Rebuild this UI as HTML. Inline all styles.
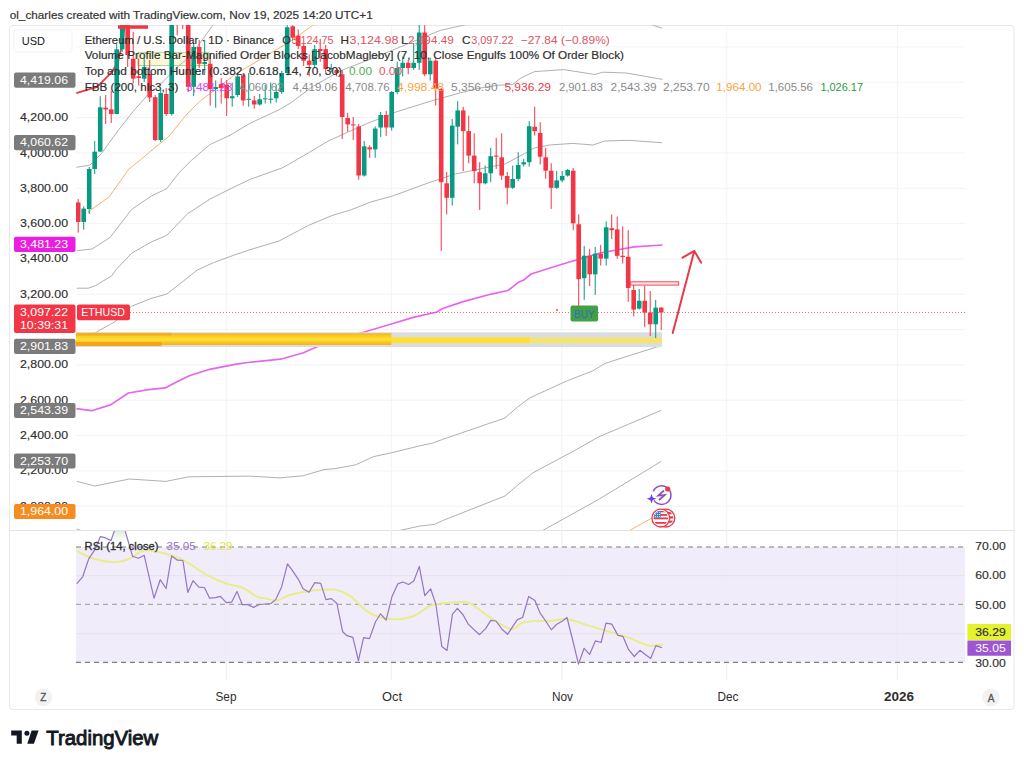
<!DOCTYPE html><html><head><meta charset="utf-8"><style>html,body{margin:0;padding:0;background:#fff;}body{width:1024px;height:766px;overflow:hidden;position:relative;}svg{position:absolute;left:0;top:0;}</style></head><body>
<svg width="1024" height="766" viewBox="0 0 1024 766" font-family='"Liberation Sans", sans-serif'>
<defs><clipPath id="mp"><rect x="76" y="25" width="889" height="505"/></clipPath><clipPath id="rp"><rect x="76" y="531" width="889" height="149"/></clipPath></defs>
<text x="9.7" y="18.6" font-size="11.4" fill="#333" stroke="#333" stroke-width="0.2" textLength="363" lengthAdjust="spacingAndGlyphs">ol_charles created with TradingView.com, Nov 19, 2025 14:20 UTC+1</text>
<rect x="9.5" y="25.5" width="1004.5" height="684" rx="3" fill="none" stroke="#e6e8ee" stroke-width="1"/>
<line x1="10" y1="530.5" x2="1014" y2="530.5" stroke="#e0e3eb"/>
<line x1="76" y1="506.2" x2="965" y2="506.2" stroke="#f2f3f6"/>
<line x1="76" y1="470.9" x2="965" y2="470.9" stroke="#f2f3f6"/>
<line x1="76" y1="435.6" x2="965" y2="435.6" stroke="#f2f3f6"/>
<line x1="76" y1="400.2" x2="965" y2="400.2" stroke="#f2f3f6"/>
<line x1="76" y1="364.9" x2="965" y2="364.9" stroke="#f2f3f6"/>
<line x1="76" y1="329.6" x2="965" y2="329.6" stroke="#f2f3f6"/>
<line x1="76" y1="294.2" x2="965" y2="294.2" stroke="#f2f3f6"/>
<line x1="76" y1="258.9" x2="965" y2="258.9" stroke="#f2f3f6"/>
<line x1="76" y1="223.6" x2="965" y2="223.6" stroke="#f2f3f6"/>
<line x1="76" y1="188.3" x2="965" y2="188.3" stroke="#f2f3f6"/>
<line x1="76" y1="152.9" x2="965" y2="152.9" stroke="#f2f3f6"/>
<line x1="76" y1="117.6" x2="965" y2="117.6" stroke="#f2f3f6"/>
<line x1="76" y1="82.3" x2="965" y2="82.3" stroke="#f2f3f6"/>
<line x1="76" y1="46.9" x2="965" y2="46.9" stroke="#f2f3f6"/>
<line x1="226.3" y1="26" x2="226.3" y2="680" stroke="#f2f3f6"/>
<line x1="391.3" y1="26" x2="391.3" y2="680" stroke="#f2f3f6"/>
<line x1="561.8" y1="26" x2="561.8" y2="680" stroke="#f2f3f6"/>
<line x1="726.8" y1="26" x2="726.8" y2="680" stroke="#f2f3f6"/>
<line x1="897.3" y1="26" x2="897.3" y2="680" stroke="#f2f3f6"/>
<g clip-path="url(#mp)">
<rect x="137.8" y="52.3" width="71.2" height="13.2" fill="#fcf9d9" stroke="#9ccc7c" stroke-width="0.8"/>
<polyline points="76.3,93.1 97.2,86.8 111.8,72.2 118.0,61.8 122.0,45.0 125.0,24.0" fill="none" stroke="#f23645" stroke-width="1.8" stroke-linejoin="round"/>
<polyline points="76.3,167.3 89.8,165.2 101.3,153.7 118.0,130.7 132.7,111.9 149.4,93.1 161.9,82.7 178.6,66.0 191.1,55.5 212.0,26.3 215.0,22.0" fill="none" stroke="#b0b0b0" stroke-width="1" stroke-linejoin="round"/>
<polyline points="88.0,212.0 109.0,197.0 128.7,169.3 140.2,160.0 157.7,145.3 168.2,137.0 187.0,114.0 199.5,101.5 216.2,89.0 234.7,74.7 262.0,58.3 289.4,41.9 314.0,24.4" fill="none" stroke="#f4b56e" stroke-width="1" stroke-linejoin="round"/>
<polyline points="76.7,250.8 92.0,249.0 110.0,237.5 131.5,209.5 151.6,195.9 166.7,188.7 178.9,172.9 191.8,160.0 209.8,144.6 230.0,135.3 249.6,123.5 279.0,109.8 290.0,103.3 313.5,86.0 333.1,75.0 343.3,69.6 370.0,59.4 405.0,45.0 440.0,30.5 467.0,24.4" fill="none" stroke="#b0b0b0" stroke-width="1" stroke-linejoin="round"/>
<polyline points="640.0,24.0 651.5,24.7 662.0,28.2" fill="none" stroke="#b0b0b0" stroke-width="1" stroke-linejoin="round"/>
<polyline points="76.8,288.2 88.2,288.2 95.2,285.8 111.7,275.9 115.7,270.0 131.5,253.3 151.6,241.8 166.7,235.4 187.5,213.8 210.5,198.8 234.9,186.6 250.0,179.4 282.9,167.6 308.4,152.9 328.0,141.1 347.5,132.3 367.1,123.5 396.5,111.8 431.8,100.8 460.6,92.8 480.0,88.1 497.3,85.3 513.0,84.3 520.8,78.0 534.5,71.6 563.7,69.6 595.0,74.5 602.8,72.2 626.3,73.0 662.4,79.4" fill="none" stroke="#b0b0b0" stroke-width="1" stroke-linejoin="round"/>
<polyline points="76.8,340.0 96.4,332.1 115.2,321.6 131.6,306.3 150.3,298.7 166.8,294.0 179.6,284.1 197.2,270.0 213.4,262.7 234.9,254.8 250.0,249.7 279.0,241.0 308.4,225.4 331.9,215.6 351.4,209.7 371.0,201.9 392.6,196.0 430.0,182.3 455.6,173.9 475.0,170.0 505.6,163.8 524.4,153.6 533.8,148.1 549.4,145.0 572.8,143.4 593.1,145.0 604.5,141.0 628.0,140.3 662.0,142.7" fill="none" stroke="#b0b0b0" stroke-width="1" stroke-linejoin="round"/>
<polyline points="76.8,481.4 95.0,486.0 129.4,479.0 165.9,481.4 188.7,476.8 250.0,476.1 280.0,477.9 302.9,475.8 324.0,469.6 334.6,468.7 355.7,464.8 373.3,456.7 391.0,452.9 420.0,445.8 433.0,443.0 442.5,439.4 505.0,418.0 517.5,407.0 530.0,397.8 567.5,380.6 592.5,371.0 605.0,363.4 661.0,345.6" fill="none" stroke="#b0b0b0" stroke-width="1" stroke-linejoin="round"/>
<polyline points="399.8,530.4 420.0,526.0 434.7,524.4 442.5,520.6 505.0,496.0 517.5,485.3 533.0,472.8 573.7,451.0 598.7,436.9 661.3,410.3" fill="none" stroke="#b0b0b0" stroke-width="1" stroke-linejoin="round"/>
<polyline points="76.6,529.0 84.0,531.5" fill="none" stroke="#b0b0b0" stroke-width="1" stroke-linejoin="round"/>
<polyline points="542.5,530.6 598.7,499.4 661.3,461.3" fill="none" stroke="#b0b0b0" stroke-width="1" stroke-linejoin="round"/>
<polyline points="625.0,533.0 652.0,518.0 662.0,512.0" fill="none" stroke="#f4b56e" stroke-width="1" stroke-linejoin="round"/>
<polyline points="76.3,408.7 91.6,410.7 110.6,404.9 128.4,393.0 148.7,389.6 165.2,387.9 174.0,383.3 189.3,375.7 209.6,369.3 235.0,364.3 247.7,362.5 280.7,359.2 303.5,352.8 310.0,349.8 330.5,341.2 363.5,332.3 388.8,324.7 414.2,317.1 437.0,312.0 442.0,308.7 462.4,301.9 490.4,294.3 508.0,290.5 518.3,282.3 523.4,280.3 531.0,274.0 566.0,263.0 600.0,253.0 634.0,246.8 662.5,245.0" fill="none" stroke="#e466ef" stroke-width="1.7" stroke-linejoin="round"/>
<defs><linearGradient id="gold" x1="0" y1="0" x2="0" y2="1"><stop offset="0" stop-color="#f5b51f"/><stop offset="0.3" stop-color="#fbcf2a"/><stop offset="0.55" stop-color="#fde232"/><stop offset="0.8" stop-color="#f9c426"/><stop offset="1" stop-color="#f6b21f"/></linearGradient></defs>
<rect x="76" y="332.3" width="586" height="14.8" fill="#dcdde2"/>
<rect x="76" y="337.5" width="586" height="5.6" fill="#f3e46e"/>
<rect x="76" y="337.2" width="454" height="6" fill="#fde03a"/>
<rect x="76" y="333.2" width="315.4" height="11.8" fill="url(#gold)"/>
<rect x="76" y="332.8" width="95.5" height="2.8" fill="#f5ae1e"/>
<rect x="76" y="342" width="85.4" height="4" fill="#f7a21b"/>
<rect x="77.7" y="199.0" width="1" height="33.6" fill="#f23645"/>
<rect x="75.9" y="202.4" width="4.6" height="19.6" fill="#f23645"/>
<rect x="83.2" y="206.4" width="1" height="23.3" fill="#089981"/>
<rect x="81.4" y="208.6" width="4.6" height="13.4" fill="#089981"/>
<rect x="88.7" y="167.0" width="1" height="47.0" fill="#089981"/>
<rect x="86.9" y="169.0" width="4.6" height="40.0" fill="#089981"/>
<rect x="94.2" y="141.0" width="1" height="33.0" fill="#089981"/>
<rect x="92.4" y="151.7" width="4.6" height="17.3" fill="#089981"/>
<rect x="99.7" y="96.2" width="1" height="55.8" fill="#089981"/>
<rect x="97.9" y="107.3" width="4.6" height="44.2" fill="#089981"/>
<rect x="105.2" y="95.0" width="1" height="29.0" fill="#f23645"/>
<rect x="103.4" y="107.7" width="4.6" height="1.7" fill="#f23645"/>
<rect x="110.7" y="91.0" width="1" height="32.0" fill="#f23645"/>
<rect x="108.9" y="109.4" width="4.6" height="4.6" fill="#f23645"/>
<rect x="116.2" y="44.0" width="1" height="70.0" fill="#089981"/>
<rect x="114.4" y="49.3" width="4.6" height="64.7" fill="#089981"/>
<rect x="121.7" y="25.0" width="1" height="27.0" fill="#089981"/>
<rect x="119.9" y="25.0" width="4.6" height="24.3" fill="#089981"/>
<rect x="127.2" y="25.0" width="1" height="42.0" fill="#f23645"/>
<rect x="125.4" y="25.0" width="4.6" height="30.0" fill="#f23645"/>
<rect x="132.7" y="31.7" width="1" height="51.7" fill="#f23645"/>
<rect x="130.9" y="58.7" width="4.6" height="20.0" fill="#f23645"/>
<rect x="138.2" y="58.7" width="1" height="27.0" fill="#f23645"/>
<rect x="136.4" y="76.3" width="4.6" height="1.8" fill="#f23645"/>
<rect x="143.7" y="57.6" width="1" height="24.6" fill="#089981"/>
<rect x="141.9" y="67.0" width="4.6" height="11.7" fill="#089981"/>
<rect x="149.2" y="60.0" width="1" height="42.0" fill="#f23645"/>
<rect x="147.4" y="74.0" width="4.6" height="23.5" fill="#f23645"/>
<rect x="154.7" y="95.0" width="1" height="46.0" fill="#f23645"/>
<rect x="152.9" y="97.2" width="4.6" height="42.8" fill="#f23645"/>
<rect x="160.2" y="90.0" width="1" height="52.0" fill="#089981"/>
<rect x="158.4" y="93.0" width="4.6" height="47.0" fill="#089981"/>
<rect x="165.7" y="88.0" width="1" height="28.0" fill="#f23645"/>
<rect x="163.9" y="94.0" width="4.6" height="20.0" fill="#f23645"/>
<rect x="171.2" y="25.0" width="1" height="90.6" fill="#089981"/>
<rect x="169.4" y="25.0" width="4.6" height="89.0" fill="#089981"/>
<rect x="176.7" y="25.0" width="1" height="10.3" fill="#f23645"/>
<rect x="174.9" y="20.0" width="4.6" height="4.0" fill="#f23645"/>
<rect x="182.2" y="25.0" width="1" height="4.0" fill="#f23645"/>
<rect x="180.4" y="20.0" width="4.6" height="4.0" fill="#f23645"/>
<rect x="187.7" y="25.0" width="1" height="67.0" fill="#f23645"/>
<rect x="185.9" y="25.0" width="4.6" height="61.8" fill="#f23645"/>
<rect x="193.2" y="43.0" width="1" height="53.0" fill="#089981"/>
<rect x="191.4" y="47.0" width="4.6" height="39.8" fill="#089981"/>
<rect x="198.7" y="40.0" width="1" height="28.0" fill="#f23645"/>
<rect x="196.9" y="47.0" width="4.6" height="16.8" fill="#f23645"/>
<rect x="204.2" y="39.8" width="1" height="35.2" fill="#089981"/>
<rect x="202.4" y="62.0" width="4.6" height="2.0" fill="#089981"/>
<rect x="209.7" y="55.0" width="1" height="50.6" fill="#f23645"/>
<rect x="207.9" y="63.8" width="4.6" height="25.2" fill="#f23645"/>
<rect x="215.2" y="80.5" width="1" height="27.2" fill="#089981"/>
<rect x="213.4" y="87.0" width="4.6" height="2.0" fill="#089981"/>
<rect x="220.7" y="78.0" width="1" height="25.5" fill="#f23645"/>
<rect x="218.9" y="84.0" width="4.6" height="4.0" fill="#f23645"/>
<rect x="226.2" y="80.0" width="1" height="36.0" fill="#f23645"/>
<rect x="224.4" y="84.7" width="4.6" height="13.6" fill="#f23645"/>
<rect x="231.7" y="82.6" width="1" height="24.0" fill="#089981"/>
<rect x="229.9" y="96.2" width="4.6" height="2.1" fill="#089981"/>
<rect x="237.2" y="73.0" width="1" height="24.0" fill="#089981"/>
<rect x="235.4" y="76.4" width="4.6" height="18.6" fill="#089981"/>
<rect x="242.7" y="73.0" width="1" height="32.6" fill="#f23645"/>
<rect x="240.9" y="75.3" width="4.6" height="25.1" fill="#f23645"/>
<rect x="248.2" y="73.0" width="1" height="33.6" fill="#089981"/>
<rect x="246.4" y="98.8" width="4.6" height="1.0" fill="#089981"/>
<rect x="253.7" y="96.0" width="1" height="12.7" fill="#f23645"/>
<rect x="251.9" y="100.4" width="4.6" height="4.1" fill="#f23645"/>
<rect x="259.2" y="94.0" width="1" height="11.6" fill="#089981"/>
<rect x="257.4" y="99.3" width="4.6" height="5.2" fill="#089981"/>
<rect x="264.7" y="84.7" width="1" height="18.8" fill="#089981"/>
<rect x="262.9" y="98.3" width="4.6" height="1.0" fill="#089981"/>
<rect x="270.2" y="82.6" width="1" height="20.9" fill="#089981"/>
<rect x="268.4" y="98.8" width="4.6" height="1.0" fill="#089981"/>
<rect x="275.7" y="84.7" width="1" height="17.8" fill="#089981"/>
<rect x="273.9" y="92.0" width="4.6" height="6.3" fill="#089981"/>
<rect x="281.2" y="71.0" width="1" height="23.0" fill="#089981"/>
<rect x="279.4" y="73.0" width="4.6" height="19.0" fill="#089981"/>
<rect x="286.7" y="25.2" width="1" height="50.1" fill="#089981"/>
<rect x="284.9" y="27.3" width="4.6" height="45.7" fill="#089981"/>
<rect x="292.2" y="25.2" width="1" height="15.7" fill="#f23645"/>
<rect x="290.4" y="26.3" width="4.6" height="11.4" fill="#f23645"/>
<rect x="297.7" y="29.4" width="1" height="19.8" fill="#f23645"/>
<rect x="295.9" y="35.7" width="4.6" height="10.3" fill="#f23645"/>
<rect x="303.2" y="44.0" width="1" height="22.0" fill="#f23645"/>
<rect x="301.4" y="46.0" width="4.6" height="14.7" fill="#f23645"/>
<rect x="308.7" y="54.4" width="1" height="22.0" fill="#f23645"/>
<rect x="306.9" y="60.7" width="4.6" height="4.2" fill="#f23645"/>
<rect x="314.2" y="45.0" width="1" height="23.0" fill="#089981"/>
<rect x="312.4" y="49.2" width="4.6" height="15.7" fill="#089981"/>
<rect x="319.7" y="38.8" width="1" height="23.0" fill="#f23645"/>
<rect x="317.9" y="49.0" width="4.6" height="2.0" fill="#f23645"/>
<rect x="325.2" y="45.0" width="1" height="27.2" fill="#f23645"/>
<rect x="323.4" y="49.2" width="4.6" height="19.8" fill="#f23645"/>
<rect x="330.7" y="63.8" width="1" height="8.4" fill="#089981"/>
<rect x="328.9" y="68.0" width="4.6" height="1.1" fill="#089981"/>
<rect x="336.2" y="68.0" width="1" height="8.4" fill="#f23645"/>
<rect x="334.4" y="70.0" width="4.6" height="3.0" fill="#f23645"/>
<rect x="341.7" y="70.0" width="1" height="69.0" fill="#f23645"/>
<rect x="339.9" y="74.3" width="4.6" height="42.7" fill="#f23645"/>
<rect x="347.2" y="112.9" width="1" height="18.8" fill="#f23645"/>
<rect x="345.4" y="118.0" width="4.6" height="6.4" fill="#f23645"/>
<rect x="352.7" y="117.0" width="1" height="23.0" fill="#f23645"/>
<rect x="350.9" y="124.4" width="4.6" height="1.0" fill="#f23645"/>
<rect x="358.2" y="124.0" width="1" height="55.7" fill="#f23645"/>
<rect x="356.4" y="126.5" width="4.6" height="49.0" fill="#f23645"/>
<rect x="363.7" y="141.0" width="1" height="35.6" fill="#089981"/>
<rect x="361.9" y="146.3" width="4.6" height="29.2" fill="#089981"/>
<rect x="369.2" y="145.3" width="1" height="12.5" fill="#f23645"/>
<rect x="367.4" y="147.3" width="4.6" height="2.1" fill="#f23645"/>
<rect x="374.7" y="126.5" width="1" height="31.3" fill="#089981"/>
<rect x="372.9" y="128.6" width="4.6" height="20.8" fill="#089981"/>
<rect x="380.2" y="111.9" width="1" height="25.0" fill="#089981"/>
<rect x="378.4" y="115.0" width="4.6" height="12.5" fill="#089981"/>
<rect x="385.7" y="110.8" width="1" height="25.1" fill="#f23645"/>
<rect x="383.9" y="115.0" width="4.6" height="12.5" fill="#f23645"/>
<rect x="391.2" y="91.0" width="1" height="39.6" fill="#089981"/>
<rect x="389.4" y="92.0" width="4.6" height="35.5" fill="#089981"/>
<rect x="396.7" y="61.8" width="1" height="32.3" fill="#089981"/>
<rect x="394.9" y="68.0" width="4.6" height="24.0" fill="#089981"/>
<rect x="402.2" y="56.5" width="1" height="19.9" fill="#089981"/>
<rect x="400.4" y="62.8" width="4.6" height="5.2" fill="#089981"/>
<rect x="407.7" y="59.7" width="1" height="14.6" fill="#f23645"/>
<rect x="405.9" y="62.8" width="4.6" height="5.2" fill="#f23645"/>
<rect x="413.2" y="43.0" width="1" height="27.0" fill="#089981"/>
<rect x="411.4" y="62.8" width="4.6" height="5.2" fill="#089981"/>
<rect x="418.7" y="25.0" width="1" height="45.0" fill="#089981"/>
<rect x="416.9" y="32.5" width="4.6" height="30.3" fill="#089981"/>
<rect x="424.2" y="25.2" width="1" height="51.2" fill="#f23645"/>
<rect x="422.4" y="32.5" width="4.6" height="41.8" fill="#f23645"/>
<rect x="429.7" y="57.6" width="1" height="22.9" fill="#089981"/>
<rect x="427.9" y="60.7" width="4.6" height="13.6" fill="#089981"/>
<rect x="435.2" y="58.0" width="1" height="47.6" fill="#f23645"/>
<rect x="433.4" y="60.7" width="4.6" height="28.3" fill="#f23645"/>
<rect x="440.7" y="88.0" width="1" height="163.0" fill="#f23645"/>
<rect x="438.9" y="89.0" width="4.6" height="93.2" fill="#f23645"/>
<rect x="446.2" y="172.0" width="1" height="42.4" fill="#f23645"/>
<rect x="444.4" y="183.3" width="4.6" height="14.5" fill="#f23645"/>
<rect x="451.7" y="118.9" width="1" height="86.7" fill="#089981"/>
<rect x="449.9" y="125.6" width="4.6" height="72.2" fill="#089981"/>
<rect x="457.2" y="101.1" width="1" height="43.3" fill="#089981"/>
<rect x="455.4" y="110.4" width="4.6" height="16.3" fill="#089981"/>
<rect x="462.7" y="106.7" width="1" height="64.4" fill="#f23645"/>
<rect x="460.9" y="110.4" width="4.6" height="20.7" fill="#f23645"/>
<rect x="468.2" y="115.6" width="1" height="47.7" fill="#f23645"/>
<rect x="466.4" y="131.1" width="4.6" height="24.5" fill="#f23645"/>
<rect x="473.7" y="133.3" width="1" height="50.0" fill="#f23645"/>
<rect x="471.9" y="155.6" width="4.6" height="15.5" fill="#f23645"/>
<rect x="479.2" y="162.2" width="1" height="47.8" fill="#f23645"/>
<rect x="477.4" y="172.2" width="4.6" height="11.1" fill="#f23645"/>
<rect x="484.7" y="165.6" width="1" height="18.8" fill="#089981"/>
<rect x="482.9" y="173.3" width="4.6" height="10.0" fill="#089981"/>
<rect x="490.2" y="147.8" width="1" height="34.4" fill="#089981"/>
<rect x="488.4" y="156.2" width="4.6" height="17.1" fill="#089981"/>
<rect x="495.7" y="137.8" width="1" height="31.1" fill="#f23645"/>
<rect x="493.9" y="155.6" width="4.6" height="1.1" fill="#f23645"/>
<rect x="501.2" y="133.3" width="1" height="46.7" fill="#f23645"/>
<rect x="499.4" y="157.3" width="4.6" height="18.3" fill="#f23645"/>
<rect x="506.7" y="172.0" width="1" height="32.4" fill="#f23645"/>
<rect x="504.9" y="176.0" width="4.6" height="11.8" fill="#f23645"/>
<rect x="512.2" y="165.6" width="1" height="23.3" fill="#089981"/>
<rect x="510.4" y="178.9" width="4.6" height="8.9" fill="#089981"/>
<rect x="517.7" y="152.2" width="1" height="28.9" fill="#089981"/>
<rect x="515.9" y="164.9" width="4.6" height="14.0" fill="#089981"/>
<rect x="523.2" y="158.9" width="1" height="7.8" fill="#089981"/>
<rect x="521.4" y="162.2" width="4.6" height="2.2" fill="#089981"/>
<rect x="528.7" y="121.1" width="1" height="45.6" fill="#089981"/>
<rect x="526.9" y="126.2" width="4.6" height="36.0" fill="#089981"/>
<rect x="534.2" y="106.7" width="1" height="28.9" fill="#f23645"/>
<rect x="532.4" y="126.7" width="4.6" height="4.4" fill="#f23645"/>
<rect x="539.7" y="122.2" width="1" height="42.2" fill="#f23645"/>
<rect x="537.9" y="132.9" width="4.6" height="23.8" fill="#f23645"/>
<rect x="545.2" y="147.8" width="1" height="31.1" fill="#f23645"/>
<rect x="543.4" y="157.3" width="4.6" height="13.4" fill="#f23645"/>
<rect x="550.7" y="163.3" width="1" height="45.6" fill="#f23645"/>
<rect x="548.9" y="170.7" width="4.6" height="17.1" fill="#f23645"/>
<rect x="556.2" y="171.1" width="1" height="17.8" fill="#089981"/>
<rect x="554.4" y="180.4" width="4.6" height="7.4" fill="#089981"/>
<rect x="561.7" y="171.1" width="1" height="11.1" fill="#089981"/>
<rect x="559.9" y="176.0" width="4.6" height="4.4" fill="#089981"/>
<rect x="567.2" y="168.9" width="1" height="7.8" fill="#089981"/>
<rect x="565.4" y="170.0" width="4.6" height="5.6" fill="#089981"/>
<rect x="572.7" y="168.0" width="1" height="62.2" fill="#f23645"/>
<rect x="570.9" y="170.7" width="4.6" height="52.6" fill="#f23645"/>
<rect x="578.2" y="214.5" width="1" height="101.0" fill="#f23645"/>
<rect x="576.4" y="224.3" width="4.6" height="54.9" fill="#f23645"/>
<rect x="583.7" y="245.9" width="1" height="53.9" fill="#089981"/>
<rect x="581.9" y="255.7" width="4.6" height="22.5" fill="#089981"/>
<rect x="589.2" y="248.8" width="1" height="37.2" fill="#f23645"/>
<rect x="587.4" y="255.7" width="4.6" height="18.6" fill="#f23645"/>
<rect x="594.7" y="246.9" width="1" height="48.0" fill="#089981"/>
<rect x="592.9" y="253.7" width="4.6" height="20.6" fill="#089981"/>
<rect x="600.2" y="244.9" width="1" height="20.6" fill="#f23645"/>
<rect x="598.4" y="253.7" width="4.6" height="4.9" fill="#f23645"/>
<rect x="605.7" y="221.4" width="1" height="44.1" fill="#089981"/>
<rect x="603.9" y="227.3" width="4.6" height="31.3" fill="#089981"/>
<rect x="611.2" y="214.5" width="1" height="24.5" fill="#f23645"/>
<rect x="609.4" y="228.2" width="4.6" height="2.0" fill="#f23645"/>
<rect x="616.7" y="216.6" width="1" height="42.1" fill="#f23645"/>
<rect x="614.9" y="229.4" width="4.6" height="26.4" fill="#f23645"/>
<rect x="622.2" y="226.4" width="1" height="37.2" fill="#f23645"/>
<rect x="620.4" y="255.8" width="4.6" height="1.3" fill="#f23645"/>
<rect x="627.7" y="230.3" width="1" height="71.5" fill="#f23645"/>
<rect x="625.9" y="256.8" width="4.6" height="31.2" fill="#f23645"/>
<rect x="633.2" y="285.1" width="1" height="31.3" fill="#f23645"/>
<rect x="631.4" y="290.0" width="4.6" height="19.6" fill="#f23645"/>
<rect x="638.7" y="289.0" width="1" height="20.6" fill="#089981"/>
<rect x="636.9" y="300.8" width="4.6" height="7.8" fill="#089981"/>
<rect x="644.2" y="286.0" width="1" height="41.2" fill="#f23645"/>
<rect x="642.4" y="300.8" width="4.6" height="11.7" fill="#f23645"/>
<rect x="649.7" y="291.0" width="1" height="45.0" fill="#f23645"/>
<rect x="647.9" y="312.5" width="4.6" height="11.8" fill="#f23645"/>
<rect x="655.2" y="299.8" width="1" height="38.2" fill="#089981"/>
<rect x="653.4" y="307.6" width="4.6" height="16.7" fill="#089981"/>
<rect x="660.7" y="307.2" width="1" height="22.9" fill="#f23645"/>
<rect x="658.9" y="307.6" width="4.6" height="4.9" fill="#f23645"/>
<rect x="118" y="25.3" width="30" height="3.5" fill="#f23645"/>
<line x1="130" y1="312.5" x2="965" y2="312.5" stroke="#f23645" stroke-opacity="0.75" stroke-width="1" stroke-dasharray="1,2"/>
<circle cx="557" cy="310" r="0.9" fill="#e8394a"/>
<rect x="630.7" y="281.8" width="48" height="3.3" fill="#fde3e5" stroke="#f23645" stroke-width="0.9"/>
<rect x="570.5" y="305.5" width="27.6" height="16" rx="2" fill="#43a047"/>
<text x="584.3" y="317.5" font-size="10" text-anchor="middle" fill="#2a6fb8">BUY</text>
<path d="M672.7,333 L694.3,250.9 M682.5,257.7 L694.3,250.9 L701.1,262.6" fill="none" stroke="#e8394a" stroke-width="2" stroke-linecap="round" stroke-linejoin="round"/>
</g>
<g><path d="M653.2,491.2 A9.3,9.3 0 1,1 654,500.4" fill="none" stroke="#8e4fbf" stroke-width="1.5"/><path d="M664,490.5 L658.3,495.6 L664.8,495 L659,500" fill="none" stroke="#8e4fbf" stroke-width="1.7" stroke-linejoin="miter"/><path d="M651.5,493.8 L652.7,497.5 L656.4,498.7 L652.7,499.9 L651.5,503.6 L650.3,499.9 L646.6,498.7 L650.3,497.5 Z" fill="#6a3de8"/><circle cx="667.7" cy="489" r="2.6" fill="#e8394a"/></g>
<g><circle cx="665.9" cy="518.1" r="8.9" fill="#fff" stroke="#e8394a" stroke-width="1.3"/><clipPath id="fl2"><circle cx="665.9" cy="518.1" r="7.4"/></clipPath><g clip-path="url(#fl2)"><rect x="664" y="512" width="12" height="2.2" fill="#e8394a"/><rect x="664" y="516.3" width="12" height="2.2" fill="#e8394a"/><rect x="664" y="520.6" width="12" height="2.2" fill="#e8394a"/><rect x="664" y="524.9" width="12" height="2.2" fill="#e8394a"/></g><circle cx="660.8" cy="518.1" r="8.9" fill="#fff" stroke="#e8394a" stroke-width="1.3"/><clipPath id="fl"><circle cx="660.8" cy="518.1" r="7.3"/></clipPath><g clip-path="url(#fl)"><rect x="653" y="510" width="16" height="16" fill="#fff"/><rect x="653" y="510.5" width="16" height="1.8" fill="#e8394a"/><rect x="653" y="514" width="16" height="1.8" fill="#e8394a"/><rect x="653" y="517.5" width="16" height="1.8" fill="#e8394a"/><rect x="653" y="522" width="16" height="1.8" fill="#e8394a"/><rect x="653" y="525.3" width="16" height="1.8" fill="#e8394a"/><rect x="653" y="510" width="7.8" height="7.6" fill="#3b82d6"/><g fill="#fff"><circle cx="655.3" cy="512.3" r="0.5"/><circle cx="657.5" cy="512.3" r="0.5"/><circle cx="659.7" cy="512.3" r="0.5"/><circle cx="655.3" cy="514.5" r="0.5"/><circle cx="657.5" cy="514.5" r="0.5"/><circle cx="659.7" cy="514.5" r="0.5"/><circle cx="655.3" cy="516.6" r="0.5"/><circle cx="657.5" cy="516.6" r="0.5"/><circle cx="659.7" cy="516.6" r="0.5"/></g></g></g>
<text x="20" y="121.2" font-size="11" fill="#2e2e2e" stroke="#2e2e2e" stroke-width="0.15" textLength="48" lengthAdjust="spacingAndGlyphs">4,200.00</text>
<text x="20" y="156.5" font-size="11" fill="#2e2e2e" stroke="#2e2e2e" stroke-width="0.15" textLength="48" lengthAdjust="spacingAndGlyphs">4,000.00</text>
<text x="20" y="191.8" font-size="11" fill="#2e2e2e" stroke="#2e2e2e" stroke-width="0.15" textLength="48" lengthAdjust="spacingAndGlyphs">3,800.00</text>
<text x="20" y="227.1" font-size="11" fill="#2e2e2e" stroke="#2e2e2e" stroke-width="0.15" textLength="48" lengthAdjust="spacingAndGlyphs">3,600.00</text>
<text x="20" y="262.4" font-size="11" fill="#2e2e2e" stroke="#2e2e2e" stroke-width="0.15" textLength="48" lengthAdjust="spacingAndGlyphs">3,400.00</text>
<text x="20" y="297.7" font-size="11" fill="#2e2e2e" stroke="#2e2e2e" stroke-width="0.15" textLength="48" lengthAdjust="spacingAndGlyphs">3,200.00</text>
<text x="20" y="368.3" font-size="11" fill="#2e2e2e" stroke="#2e2e2e" stroke-width="0.15" textLength="48" lengthAdjust="spacingAndGlyphs">2,800.00</text>
<text x="20" y="403.6" font-size="11" fill="#2e2e2e" stroke="#2e2e2e" stroke-width="0.15" textLength="48" lengthAdjust="spacingAndGlyphs">2,600.00</text>
<text x="20" y="438.9" font-size="11" fill="#2e2e2e" stroke="#2e2e2e" stroke-width="0.15" textLength="48" lengthAdjust="spacingAndGlyphs">2,400.00</text>
<text x="20" y="474.2" font-size="11" fill="#2e2e2e" stroke="#2e2e2e" stroke-width="0.15" textLength="48" lengthAdjust="spacingAndGlyphs">2,200.00</text>
<text x="20" y="509.5" font-size="11" fill="#2e2e2e" stroke="#2e2e2e" stroke-width="0.15" textLength="48" lengthAdjust="spacingAndGlyphs">2,000.00</text>
<rect x="14" y="72.5" width="61.5" height="15.2" rx="2" fill="#7b7b7b"/><text x="20" y="83.8" font-size="11" fill="#fff" textLength="48" lengthAdjust="spacingAndGlyphs">4,419.06</text>
<rect x="14" y="135.0" width="61.5" height="15.2" rx="2" fill="#7b7b7b"/><text x="20" y="146.3" font-size="11" fill="#fff" textLength="48" lengthAdjust="spacingAndGlyphs">4,060.62</text>
<rect x="14" y="236.7" width="61.5" height="15.2" rx="2" fill="#e91ee0"/><text x="20" y="248.0" font-size="11" fill="#fff" textLength="48" lengthAdjust="spacingAndGlyphs">3,481.23</text>
<rect x="14" y="338.8" width="61.5" height="15.2" rx="2" fill="#7b7b7b"/><text x="20" y="350.1" font-size="11" fill="#fff" textLength="48" lengthAdjust="spacingAndGlyphs">2,901.83</text>
<rect x="14" y="402.9" width="61.5" height="15.2" rx="2" fill="#7b7b7b"/><text x="20" y="414.2" font-size="11" fill="#fff" textLength="48" lengthAdjust="spacingAndGlyphs">2,543.39</text>
<rect x="14" y="453.4" width="61.5" height="15.2" rx="2" fill="#7b7b7b"/><text x="20" y="464.7" font-size="11" fill="#fff" textLength="48" lengthAdjust="spacingAndGlyphs">2,253.70</text>
<rect x="14" y="503.9" width="61.5" height="15.2" rx="2" fill="#f68c1f"/><text x="20" y="515.2" font-size="11" fill="#fff" textLength="48" lengthAdjust="spacingAndGlyphs">1,964.00</text>
<rect x="14" y="304.6" width="61.5" height="28.4" rx="2" fill="#f23645"/>
<text x="20" y="316" font-size="11" fill="#fff" textLength="48" lengthAdjust="spacingAndGlyphs">3,097.22</text>
<text x="20" y="329" font-size="11" fill="#fff" textLength="48" lengthAdjust="spacingAndGlyphs">10:39:31</text>
<rect x="77" y="304.6" width="53" height="15.7" rx="2" fill="#f23645"/>
<text x="81.2" y="316.3" font-size="11" fill="#fff" textLength="43.8" lengthAdjust="spacingAndGlyphs">ETHUSD</text>
<rect x="14" y="30" width="58" height="22" rx="2" fill="#fff" stroke="#f0f3fa"/>
<text x="21.8" y="44.7" font-size="11" fill="#131722">USD</text>
<g font-size="11.1" stroke-width="0.18">
<text x="84.7" y="43.8" fill="#2e2e2e" stroke="#2e2e2e" textLength="189.3" lengthAdjust="spacingAndGlyphs">Ethereum / U.S. Dollar · 1D · Binance</text>
<text x="282.3" y="43.8" fill="#2e2e2e" stroke="#2e2e2e" textLength="8.5" lengthAdjust="spacingAndGlyphs">O</text>
<text x="291.5" y="43.8" fill="#dc5663" textLength="42" lengthAdjust="spacingAndGlyphs">3,124.75</text>
<text x="340.4" y="43.8" fill="#2e2e2e" stroke="#2e2e2e" textLength="8.5" lengthAdjust="spacingAndGlyphs">H</text>
<text x="349.6" y="43.8" fill="#dc5663" textLength="48.9" lengthAdjust="spacingAndGlyphs">3,124.98</text>
<text x="401" y="43.8" fill="#2e2e2e" stroke="#2e2e2e" textLength="7" lengthAdjust="spacingAndGlyphs">L</text>
<text x="408" y="43.8" fill="#dc5663" textLength="45.8" lengthAdjust="spacingAndGlyphs">2,994.49</text>
<text x="462" y="43.8" fill="#2e2e2e" stroke="#2e2e2e" textLength="8.5" lengthAdjust="spacingAndGlyphs">C</text>
<text x="471.2" y="43.8" fill="#dc5663" textLength="42.5" lengthAdjust="spacingAndGlyphs">3,097.22</text>
<text x="520.7" y="43.8" fill="#dc5663" textLength="89.1" lengthAdjust="spacingAndGlyphs">−27.84 (−0.89%)</text>
<text x="84.7" y="59.3" fill="#2e2e2e" stroke="#2e2e2e" textLength="539.3" lengthAdjust="spacingAndGlyphs">Volume Profile Bar-Magnified Order Blocks [JacobMagleby] (7, 10, Close Engulfs 100% Of Order Block)</text>
<text x="84.7" y="75.1" fill="#2e2e2e" stroke="#2e2e2e" textLength="257.3" lengthAdjust="spacingAndGlyphs">Top and bottom Hunter (0.382, 0.618, 14, 70, 30)</text>
<text x="349" y="75.1" fill="#4caf50" textLength="23" lengthAdjust="spacingAndGlyphs">0.00</text>
<text x="379" y="75.1" fill="#dc5663" textLength="23" lengthAdjust="spacingAndGlyphs">0.00</text>
<text x="84.7" y="90.9" fill="#2e2e2e" stroke="#2e2e2e" textLength="93.7" lengthAdjust="spacingAndGlyphs">FBB (200, hlc3, 3)</text>
<text x="186" y="90.9" fill="#e040fb" textLength="46.5" lengthAdjust="spacingAndGlyphs">3,481.23</text>
<text x="238.9" y="90.9" fill="#8a8a8a" textLength="44.5" lengthAdjust="spacingAndGlyphs">4,060.62</text>
<text x="292.5" y="90.9" fill="#8a8a8a" textLength="44.8" lengthAdjust="spacingAndGlyphs">4,419.06</text>
<text x="345.2" y="90.9" fill="#8a8a8a" textLength="44.5" lengthAdjust="spacingAndGlyphs">4,708.76</text>
<text x="397.1" y="90.9" fill="#f7a543" textLength="47" lengthAdjust="spacingAndGlyphs">4,998.48</text>
<text x="451.1" y="90.9" fill="#8a8a8a" textLength="46.5" lengthAdjust="spacingAndGlyphs">5,356.90</text>
<text x="504.4" y="90.9" fill="#e8394a" textLength="46.6" lengthAdjust="spacingAndGlyphs">5,936.29</text>
<text x="558.9" y="90.9" fill="#8a8a8a" textLength="44" lengthAdjust="spacingAndGlyphs">2,901.83</text>
<text x="610.6" y="90.9" fill="#8a8a8a" textLength="46" lengthAdjust="spacingAndGlyphs">2,543.39</text>
<text x="663" y="90.9" fill="#8a8a8a" textLength="46.6" lengthAdjust="spacingAndGlyphs">2,253.70</text>
<text x="716.3" y="90.9" fill="#f7a543" textLength="45.3" lengthAdjust="spacingAndGlyphs">1,964.00</text>
<text x="768.3" y="90.9" fill="#8a8a8a" textLength="44.7" lengthAdjust="spacingAndGlyphs">1,605.56</text>
<text x="820.4" y="90.9" fill="#2e9a44" textLength="42.6" lengthAdjust="spacingAndGlyphs">1,026.17</text>
</g>
<rect x="76" y="547" width="889" height="115.4" fill="#f1ecfa"/>
<line x1="76" y1="575.7" x2="965" y2="575.7" stroke="#e6e1f0"/>
<line x1="76" y1="633.7" x2="965" y2="633.7" stroke="#e6e1f0"/>
<line x1="226.3" y1="531" x2="226.3" y2="680" stroke="#e9e5f2" stroke-opacity="0.35"/>
<line x1="391.3" y1="531" x2="391.3" y2="680" stroke="#e9e5f2" stroke-opacity="0.35"/>
<line x1="561.8" y1="531" x2="561.8" y2="680" stroke="#e9e5f2" stroke-opacity="0.35"/>
<line x1="726.8" y1="531" x2="726.8" y2="680" stroke="#e9e5f2" stroke-opacity="0.35"/>
<line x1="897.3" y1="531" x2="897.3" y2="680" stroke="#e9e5f2" stroke-opacity="0.35"/>
<line x1="76" y1="547" x2="965" y2="547" stroke="#7f7f7f" stroke-width="1.2" stroke-dasharray="5,4"/>
<line x1="76" y1="604.4" x2="965" y2="604.4" stroke="#a9a9b0" stroke-width="1.2" stroke-dasharray="5,4"/>
<line x1="76" y1="662.4" x2="965" y2="662.4" stroke="#7f7f7f" stroke-width="1.2" stroke-dasharray="5,4"/>
<g clip-path="url(#rp)">
<path d="M76.8,550.4 C78.9,551.5 83.5,555.2 89.5,557.2 C95.5,559.2 106.5,561.8 113.0,562.1 C119.5,562.4 123.4,561.2 128.6,559.2 C133.8,557.2 138.3,551.4 144.2,550.4 C150.1,549.4 157.3,551.7 163.8,553.3 C170.3,554.9 176.2,556.6 183.3,560.2 C190.5,563.8 199.5,570.9 206.7,574.8 C213.9,578.7 220.4,581.5 226.3,583.6 C232.2,585.7 236.7,585.3 241.9,587.5 C247.1,589.7 253.7,595.1 257.5,596.9 C261.4,598.7 261.8,597.6 265.0,598.2 C268.2,598.8 272.5,601.1 276.7,600.5 C280.9,599.9 284.2,596.4 290.4,594.7 C296.6,593.0 306.3,591.2 313.8,590.4 C321.3,589.6 329.1,588.8 335.3,589.8 C341.5,590.8 345.4,592.9 350.9,596.6 C356.4,600.4 362.0,608.5 368.5,612.3 C375.0,616.0 382.5,618.5 390.0,619.1 C397.5,619.8 406.6,618.5 413.4,616.2 C420.2,613.9 425.1,607.6 431.0,605.4 C436.9,603.2 442.9,603.4 448.6,602.9 C454.3,602.4 461.1,601.8 465.0,602.1 C468.9,602.4 468.0,602.0 472.3,604.6 C476.6,607.2 484.3,613.8 490.8,617.9 C497.3,622.0 506.2,628.3 511.3,629.2 C516.4,630.1 517.8,624.5 521.5,623.1 C525.2,621.7 529.0,621.4 533.8,621.0 C538.6,620.6 544.7,621.3 550.2,621.0 C555.7,620.7 560.4,618.3 566.6,619.0 C572.8,619.7 580.4,623.1 587.2,625.1 C594.1,627.1 600.9,629.2 607.7,631.3 C614.5,633.3 621.4,635.0 628.2,637.4 C635.0,639.8 642.9,644.5 648.7,645.6 C654.5,646.7 660.6,644.4 663.0,644.2" fill="none" stroke="#e8ed8a" stroke-width="2"/>
<defs><linearGradient id="ob" x1="0" y1="0" x2="0" y2="1"><stop offset="0" stop-color="#d7efd9"/><stop offset="1" stop-color="#ffffff" stop-opacity="0"/></linearGradient></defs>
<polygon points="98.5,547 100.3,536.7 105.2,537.7 111,540.6 114.4,530.7 125,530.7 129.6,547" fill="url(#ob)"/>
<polyline points="76.8,583.6 82.7,576.8 88.6,559.2 94.4,550.4 100.3,536.7 105.2,537.7 111.0,540.6 116.7,524.0 120.5,518.0 124.6,529.0 132.5,556.2 138.4,558.2 144.2,555.3 154.0,598.2 160.2,579.7 166.1,588.5 171.6,555.9 177.4,560.2 182.9,560.5 187.8,592.4 193.0,580.7 198.9,587.1 204.4,587.5 209.6,598.2 215.5,597.7 220.4,596.3 226.3,602.7 231.7,602.1 237.0,591.4 242.3,604.7 247.7,604.7 253.6,607.4 259.5,604.5 265.0,604.0 270.9,603.5 275.7,599.6 281.6,586.9 287.5,563.8 292.3,570.3 298.2,579.1 303.1,588.8 309.0,592.3 314.8,582.6 320.7,583.4 325.9,599.6 331.4,598.6 336.9,603.5 342.7,631.8 347.0,635.7 352.9,637.3 358.4,660.7 363.6,637.7 369.5,638.6 375.4,622.0 380.6,613.8 386.1,620.1 392.0,596.6 397.8,583.9 402.7,582.0 408.6,584.5 413.8,581.0 419.3,566.4 424.8,595.7 430.6,588.8 435.9,604.5 441.8,646.4 447.0,650.4 452.5,614.2 457.4,608.4 463.2,615.0 468.2,624.1 479.5,634.7 485.6,628.6 490.8,620.4 495.9,621.0 502.0,629.2 507.6,634.3 512.3,627.2 517.4,619.6 522.6,617.5 528.7,596.4 534.9,600.5 540.0,612.8 545.7,621.0 551.3,629.8 556.4,624.5 562.5,621.0 567.0,617.5 572.8,640.5 578.5,664.1 584.1,648.3 589.6,654.4 595.4,640.9 601.1,642.5 606.0,623.1 611.8,624.1 617.9,635.4 623.0,636.4 628.6,649.7 634.3,656.5 639.9,650.3 645.6,654.8 650.7,658.5 655.9,645.6 662.0,647.7" fill="none" stroke="#9476c2" stroke-width="1.2" stroke-linejoin="round"/>
</g>
<g font-size="11"><text x="84.6" y="549.8" fill="#2e2e2e" stroke="#2e2e2e" stroke-width="0.3" textLength="73.8" lengthAdjust="spacingAndGlyphs">RSI (14, close)</text><text x="166.6" y="549.8" fill="#9a78c8" textLength="29.2" lengthAdjust="spacingAndGlyphs">35.05</text><text x="203.7" y="549.8" fill="#e2e84a" textLength="28.7" lengthAdjust="spacingAndGlyphs">36.29</text></g>
<text x="975.2" y="550.1" font-size="11" fill="#2e2e2e" stroke="#2e2e2e" stroke-width="0.15" textLength="30.5" lengthAdjust="spacingAndGlyphs">70.00</text>
<text x="975.2" y="579.4" font-size="11" fill="#2e2e2e" stroke="#2e2e2e" stroke-width="0.15" textLength="30.5" lengthAdjust="spacingAndGlyphs">60.00</text>
<text x="975.2" y="608.9" font-size="11" fill="#2e2e2e" stroke="#2e2e2e" stroke-width="0.15" textLength="30.5" lengthAdjust="spacingAndGlyphs">50.00</text>
<text x="975.2" y="666.8" font-size="11" fill="#2e2e2e" stroke="#2e2e2e" stroke-width="0.15" textLength="30.5" lengthAdjust="spacingAndGlyphs">30.00</text>
<rect x="967.4" y="624" width="43.6" height="16" rx="0.5" fill="#e4f22e"/><text x="975.2" y="636" font-size="11" fill="#2e2e2e" stroke="#2e2e2e" stroke-width="0.15" textLength="30.5" lengthAdjust="spacingAndGlyphs">36.29</text>
<rect x="967.4" y="640.6" width="43.6" height="15.2" rx="0.5" fill="#9d55d2"/><text x="975.2" y="652.3" font-size="11" fill="#fff" textLength="30.5" lengthAdjust="spacingAndGlyphs">35.05</text>
<circle cx="43.4" cy="697.4" r="8.8" fill="#f2f2f3"/><text x="43.4" y="701.3" font-size="10" text-anchor="middle" fill="#555" stroke="#555" stroke-width="0.3">Z</text>
<circle cx="991" cy="697.5" r="8.8" fill="#f2f2f3"/><text x="991" y="701.5" font-size="10" text-anchor="middle" fill="#555" stroke="#555" stroke-width="0.3">A</text>
<text x="215.5" y="701.2" font-size="12" font-weight="normal" fill="#2e2e2e" textLength="21" lengthAdjust="spacingAndGlyphs">Sep</text>
<text x="382.0" y="701.2" font-size="12" font-weight="normal" fill="#2e2e2e" textLength="20" lengthAdjust="spacingAndGlyphs">Oct</text>
<text x="552.0" y="701.2" font-size="12" font-weight="normal" fill="#2e2e2e" textLength="21" lengthAdjust="spacingAndGlyphs">Nov</text>
<text x="717.5" y="701.2" font-size="12" font-weight="normal" fill="#2e2e2e" textLength="21" lengthAdjust="spacingAndGlyphs">Dec</text>
<text x="884.0" y="701.2" font-size="12" font-weight="bold" fill="#2e2e2e" textLength="30" lengthAdjust="spacingAndGlyphs">2026</text>
<g fill="#131722"><path d="M11.2,730.5 H21.8 V743.8 H16.7 V735.6 H11.2 Z"/><circle cx="26.9" cy="733.3" r="2.5"/><path d="M31.6,730.5 H38.6 L33.9,743.8 H27.3 Z"/></g>
<text x="46.3" y="744.5" font-size="20" fill="#131722" stroke="#131722" stroke-width="0.9" textLength="112" lengthAdjust="spacingAndGlyphs">TradingView</text>
</svg></body></html>
